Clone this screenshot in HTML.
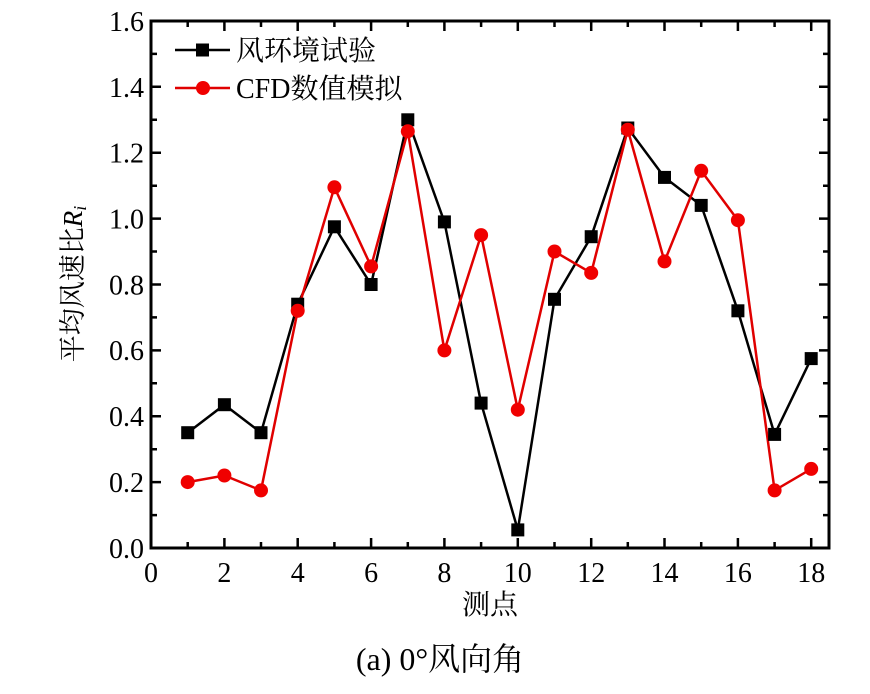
<!DOCTYPE html>
<html><head><meta charset="utf-8"><style>body{margin:0;background:#fff}svg{display:block}text{font-family:"Liberation Serif","Times New Roman","Noto Serif CJK SC",serif}</style></head><body>
<svg width="870" height="694" xmlns="http://www.w3.org/2000/svg">
<rect width="870" height="694" fill="#fff"/>
<rect x="151" y="21" width="678" height="527" fill="none" stroke="#000" stroke-width="3"/>
<g stroke="#000" stroke-width="2.5">
<path d="M151 548v-10M187.7 548v-6M224.4 548v-10M261 548v-6M297.7 548v-10M334.4 548v-6M371.1 548v-10M407.8 548v-6M444.4 548v-10M481.1 548v-6M517.8 548v-10M554.5 548v-6M591.2 548v-10M627.8 548v-6M664.5 548v-10M701.2 548v-6M737.9 548v-10M774.6 548v-6M811.2 548v-10"/>
<path d="M151 21v10M187.7 21v6M224.4 21v10M261 21v6M297.7 21v10M334.4 21v6M371.1 21v10M407.8 21v6M444.4 21v10M481.1 21v6M517.8 21v10M554.5 21v6M591.2 21v10M627.8 21v6M664.5 21v10M701.2 21v6M737.9 21v10M774.6 21v6M811.2 21v10"/>
<path d="M151 515.1h6M151 482.1h10M151 449.2h6M151 416.2h10M151 383.3h6M151 350.4h10M151 317.4h6M151 284.5h10M151 251.5h6M151 218.6h10M151 185.7h6M151 152.7h10M151 119.8h6M151 86.8h10M151 53.9h6"/>
<path d="M829 515.1h-6M829 482.1h-10M829 449.2h-6M829 416.2h-10M829 383.3h-6M829 350.4h-10M829 317.4h-6M829 284.5h-10M829 251.5h-6M829 218.6h-10M829 185.7h-6M829 152.7h-10M829 119.8h-6M829 86.8h-10M829 53.9h-6"/>
</g>
<g font-size="28" text-anchor="middle">
<text x="151" y="582">0</text><text x="224.4" y="582">2</text><text x="297.7" y="582">4</text><text x="371.1" y="582">6</text><text x="444.4" y="582">8</text><text x="517.8" y="582">10</text><text x="591.2" y="582">12</text><text x="664.5" y="582">14</text><text x="737.9" y="582">16</text><text x="811.2" y="582">18</text>
</g>
<g font-size="28" text-anchor="end">
<text x="144" y="558">0.0</text><text x="144" y="492">0.2</text><text x="144" y="426">0.4</text><text x="144" y="360">0.6</text><text x="144" y="294.5">0.8</text><text x="144" y="228.6">1.0</text><text x="144" y="162.7">1.2</text><text x="144" y="96.8">1.4</text><text x="144" y="31">1.6</text>
</g>
<polyline fill="none" stroke="#000" stroke-width="2.5" points="187.7,432.7 224.4,404.7 261,432.7 297.7,304.2 334.4,226.8 371.1,284.5 407.8,119.8 444.4,221.9 481.1,403.1 517.8,529.9 554.5,299.3 591.2,236.7 627.8,128 664.5,177.4 701.2,205.4 737.9,310.8 774.6,434.4 811.2,358.6"/>
<polyline fill="none" stroke="#e00000" stroke-width="2.5" points="187.7,482.1 224.4,475.5 261,490.4 297.7,310.8 334.4,187.3 371.1,266.4 407.8,131.3 444.4,350.4 481.1,235.1 517.8,409.7 554.5,251.5 591.2,272.9 627.8,129.7 664.5,261.4 701.2,170.8 737.9,220.2 774.6,490.4 811.2,468.9"/>
<g fill="#000">
<rect x="181.2" y="426.2" width="13" height="13"/><rect x="217.9" y="398.2" width="13" height="13"/><rect x="254.5" y="426.2" width="13" height="13"/><rect x="291.2" y="297.7" width="13" height="13"/><rect x="327.9" y="220.3" width="13" height="13"/><rect x="364.6" y="278" width="13" height="13"/><rect x="401.3" y="113.3" width="13" height="13"/><rect x="437.9" y="215.4" width="13" height="13"/><rect x="474.6" y="396.6" width="13" height="13"/><rect x="511.3" y="523.4" width="13" height="13"/><rect x="548" y="292.8" width="13" height="13"/><rect x="584.7" y="230.2" width="13" height="13"/><rect x="621.3" y="121.5" width="13" height="13"/><rect x="658" y="170.9" width="13" height="13"/><rect x="694.7" y="198.9" width="13" height="13"/><rect x="731.4" y="304.3" width="13" height="13"/><rect x="768.1" y="427.9" width="13" height="13"/><rect x="804.7" y="352.1" width="13" height="13"/>
</g>
<g fill="#f00000">
<circle cx="187.7" cy="482.1" r="7"/><circle cx="224.4" cy="475.5" r="7"/><circle cx="261" cy="490.4" r="7"/><circle cx="297.7" cy="310.8" r="7"/><circle cx="334.4" cy="187.3" r="7"/><circle cx="371.1" cy="266.4" r="7"/><circle cx="407.8" cy="131.3" r="7"/><circle cx="444.4" cy="350.4" r="7"/><circle cx="481.1" cy="235.1" r="7"/><circle cx="517.8" cy="409.7" r="7"/><circle cx="554.5" cy="251.5" r="7"/><circle cx="591.2" cy="272.9" r="7"/><circle cx="627.8" cy="129.7" r="7"/><circle cx="664.5" cy="261.4" r="7"/><circle cx="701.2" cy="170.8" r="7"/><circle cx="737.9" cy="220.2" r="7"/><circle cx="774.6" cy="490.4" r="7"/><circle cx="811.2" cy="468.9" r="7"/>
</g>
<line x1="175" y1="50" x2="230" y2="50" stroke="#000" stroke-width="2.5"/><rect x="196" y="43.5" width="13" height="13" fill="#000"/>
<text x="236" y="60" font-size="28">风环境试验</text>
<line x1="175" y1="88" x2="230" y2="88" stroke="#e00000" stroke-width="2.5"/><circle cx="203" cy="88" r="7" fill="#f00000"/>
<text x="236" y="98" font-size="28">CFD数值模拟</text>
<text transform="translate(82,284) rotate(-90)" font-size="27" text-anchor="middle">平均风速比<tspan font-style="italic">R</tspan><tspan font-style="italic" font-size="18" dy="4">i</tspan></text>
<text x="490" y="614" font-size="28" text-anchor="middle">测点</text>
<text x="440" y="670" font-size="32" text-anchor="middle">(a) 0°风向角</text>
</svg>
</body></html>
